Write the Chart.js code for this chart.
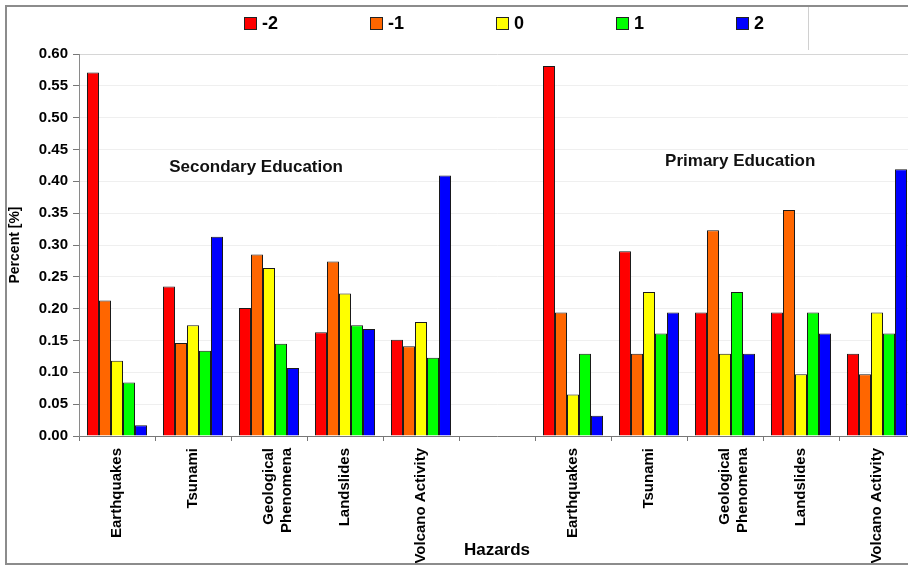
<!DOCTYPE html>
<html>
<head>
  <meta charset="utf-8" />
  <title>Hazards - Secondary / Primary Education</title>
  <script src="https://cdn.jsdelivr.net/npm/chart.js"></script>
  <style>
    html, body { margin: 0; padding: 0; background: #fff; width: 908px; height: 566px; overflow: hidden; }
    .frame {
      position: absolute; left: 5px; top: 5px;
      width: 1000px; height: 556px;
      border: 2px solid #8c8c8c; background: #fff; overflow: hidden;
    }
    .frame canvas { position: absolute; left: 0; top: 0; }
    #legend {
      position: absolute; left: 237px; top: 7px;
      display: flex; align-items: center;
      font: bold 18px "Liberation Sans", Arial, sans-serif; color: #000;
    }
    #legend .item { display: flex; align-items: center; margin-right: 92px; line-height: 18px; }
    #legend .box { width: 13px; height: 13px; box-sizing: border-box; border: 1px solid #222; margin-right: 5px; }
    .legend-edge { position: absolute; left: 801px; top: 0; width: 1px; height: 43px; background: #d0d0d0; }
  </style>
</head>
<body>
  <div class="frame">
    <canvas id="hazardsChart" width="912" height="556"></canvas>
    <div id="legend"></div>
    <div class="legend-edge"></div>
  </div>

  <script>
    // categories: Secondary Education (5), empty gap, Primary Education (5)
    const categories = [
      'Earthquakes', 'Tsunami', ['Geological', 'Phenomena'], 'Landslides', 'Volcano Activity',
      '',
      'Earthquakes', 'Tsunami', ['Geological', 'Phenomena'], 'Landslides', 'Volcano Activity'
    ];

    const seriesNames = ['-2', '-1', '0', '1', '2'];

    const minus2 = [0.571, 0.235, 0.201, 0.163, 0.151, null, 0.581, 0.290, 0.194, 0.194, 0.129];
    const minus1 = [0.213, 0.146, 0.285, 0.274, 0.141, null, 0.194, 0.129, 0.323, 0.355, 0.097];
    const zero   = [0.118, 0.174, 0.264, 0.224, 0.179, null, 0.065, 0.226, 0.129, 0.097, 0.194];
    const plus1  = [0.084, 0.134, 0.145, 0.174, 0.123, null, 0.129, 0.161, 0.226, 0.194, 0.161];
    const plus2  = [0.017, 0.313, 0.107, 0.168, 0.409, null, 0.032, 0.194, 0.129, 0.161, 0.419];

    const yMin = 0;
    const yMax = 0.6;
    const yStep = 0.05;

    const seriesValues = [minus2, minus1, zero, plus1, plus2];
    const seriesColors = ['#ff0000', '#ff6600', '#ffff00', '#00ff00', '#0000ff'];

    const fontFamily = '"Liberation Sans", Arial, sans-serif';
    Chart.defaults.font.family = fontFamily;
    Chart.defaults.color = '#000';

    // group captions, placed in data units (category index / value)
    const groupNotes = [
      { text: 'Secondary Education', at: 1.83, value: 0.422 },
      { text: 'Primary Education', at: 8.2, value: 0.431 }
    ];

    const groupNotesPlugin = {
      id: 'groupNotes',
      afterDatasetsDraw(chart) {
        const { ctx, scales: { x, y } } = chart;
        ctx.save();
        ctx.font = 'bold 17px ' + fontFamily;
        ctx.fillStyle = '#111';
        ctx.textAlign = 'center';
        ctx.textBaseline = 'middle';
        groupNotes.forEach(n => {
          ctx.fillText(n.text, x.getPixelForValue(n.at), y.getPixelForValue(n.value));
        });
        ctx.restore();
      }
    };

    const ctx = document.getElementById('hazardsChart').getContext('2d');
    const hazardsChart = new Chart(ctx, {
      type: 'bar',
      data: {
        labels: categories,
        datasets: seriesNames.map((name, i) => ({
          label: name,
          data: seriesValues[i],
          backgroundColor: seriesColors[i],
          borderColor: '#1a1a1a',
          borderWidth: 1,
          categoryPercentage: 0.79,
          barPercentage: 1.0
        }))
      },
      options: {
        responsive: false,
        animation: false,
        layout: { padding: { top: 47, right: 4, bottom: 0, left: 0 } },
        plugins: {
          legend: { display: false },
          tooltip: { enabled: false }
        },
        scales: {
          x: {
            grid: { offset: true, drawOnChartArea: false, tickLength: 5, color: '#777' },
            border: { color: '#777' },
            ticks: {
              autoSkip: false,
              minRotation: 90,
              maxRotation: 90,
              padding: 7,
              color: '#000',
              font: { size: 15, weight: 'bold', lineHeight: 1.2 }
            },
            title: {
              display: true,
              text: 'Hazards',
              color: '#000',
              font: { size: 17, weight: 'bold' },
              padding: { top: 0, bottom: 2 }
            },
            afterFit: scale => { scale.height = 127; }
          },
          y: {
            min: yMin,
            max: yMax,
            ticks: {
              stepSize: yStep,
              padding: 5,
              color: '#000',
              font: { size: 15, weight: 'bold' },
              callback: v => v.toFixed(2)
            },
            grid: {
              color: c => (c.tick && Math.abs(c.tick.value - yMax) < 1e-6) ? '#d6d6d6' : '#efefef',
              tickColor: '#777',
              tickLength: 6
            },
            border: { color: '#8a8a8a' },
            title: {
              display: true,
              text: 'Percent [%]',
              color: '#000',
              font: { size: 14, weight: 'bold' },
              padding: { top: 0, bottom: 0 }
            },
            afterFit: scale => { scale.width = 72; }
          }
        }
      },
      plugins: [groupNotesPlugin]
    });

    // html legend built from the chart's datasets
    const legendEl = document.getElementById('legend');
    hazardsChart.data.datasets.forEach(ds => {
      const item = document.createElement('div');
      item.className = 'item';
      const box = document.createElement('span');
      box.className = 'box';
      box.style.background = ds.backgroundColor;
      const txt = document.createElement('span');
      txt.textContent = ds.label;
      item.appendChild(box);
      item.appendChild(txt);
      legendEl.appendChild(item);
    });
  </script>
</body>
</html>
